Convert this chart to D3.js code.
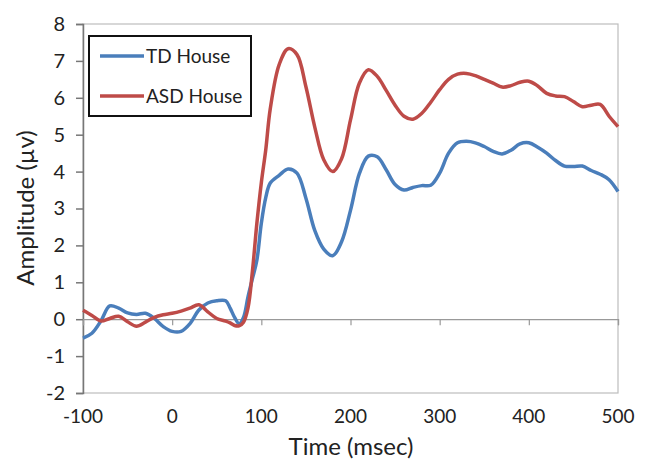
<!DOCTYPE html>
<html><head><meta charset="utf-8">
<script src="https://cdn.jsdelivr.net/npm/d3@7/dist/d3.min.js"></script>
<style>body{margin:0;background:#fff;} text{font-family:Lato,"Open Sans",sans-serif;fill:#222;}</style>
</head><body><svg id="c" width="648" height="461"></svg>
<script>
const times = [-100,-90,-80,-70,-60,-50,-40,-30,-20,-10,0,10,20,30,40,50,60,65,70,75,80,85,90,95,100,105,110,120,130,140,150,160,170,180,190,200,210,220,230,240,250,260,270,280,290,300,310,320,330,340,350,360,370,380,390,400,410,420,430,440,450,460,470,480,490,500];
const tdHouse = [-0.51,-0.38,-0.05,0.36,0.3,0.17,0.13,0.16,0.02,-0.2,-0.33,-0.33,-0.12,0.25,0.44,0.5,0.5,0.3,0.05,-0.12,0.05,0.6,1.1,1.6,2.6,3.3,3.69,3.9,4.07,3.96,3.28,2.4,1.9,1.72,2.1,2.95,3.95,4.42,4.4,4.05,3.65,3.5,3.57,3.62,3.63,3.96,4.5,4.78,4.82,4.78,4.68,4.55,4.48,4.58,4.75,4.78,4.66,4.5,4.3,4.15,4.14,4.15,4.03,3.93,3.78,3.46];
const asdHouse = [0.24,0.1,-0.05,0.02,0.08,-0.07,-0.19,-0.08,0.05,0.12,0.16,0.22,0.3,0.39,0.2,0.02,-0.05,-0.1,-0.17,-0.18,-0.08,0.3,1.3,2.6,3.7,4.6,5.7,6.9,7.33,7.17,6.3,5.2,4.32,4.0,4.35,5.4,6.4,6.76,6.58,6.2,5.8,5.5,5.42,5.58,5.88,6.22,6.5,6.64,6.66,6.6,6.5,6.4,6.29,6.33,6.42,6.45,6.32,6.12,6.05,6.03,5.9,5.76,5.8,5.82,5.5,5.22];
const seriesNames = ["TD House","ASD House"];
const seriesColors = ["#4a7ebb","#be4b48"];
const xTicks = [-100,0,100,200,300,400,500];
const yTicks = [-2,-1,0,1,2,3,4,5,6,7,8];

const svg = d3.select("#c");
const L=83,R=618,T=24,B=393;
const x = d3.scaleLinear().domain([-100,500]).range([L,R]);
const y = d3.scaleLinear().domain([-2,8]).range([B,T]);
const fmt = d => String(d); // plain hyphen minus

// plot border
svg.append("rect").attr("x",L).attr("y",T).attr("width",R-L).attr("height",B-T)
  .attr("fill","none").attr("stroke","#bdbdbd").attr("stroke-width",1.2);

// y axis
const ya = svg.append("g").attr("transform",`translate(${L},0)`)
  .call(d3.axisLeft(y).tickValues(yTicks).tickSize(7).tickPadding(11).tickFormat(fmt));
ya.select(".domain").attr("stroke","#777").attr("stroke-width",1.5);
ya.selectAll(".tick line").attr("stroke","#777").attr("stroke-width",1.5);
ya.selectAll("text").style("font-size","20px").style("font-family","Lato,sans-serif").attr("fill","#222");

// x axis at zero
const xa = svg.append("g").attr("transform",`translate(0,${y(0)})`)
  .call(d3.axisBottom(x).tickValues(xTicks).tickSize(6).tickFormat(""));
xa.select(".domain").attr("stroke","#999").attr("stroke-width",1.2);
xa.selectAll(".tick line").attr("stroke","#999").attr("stroke-width",1.2);

// x tick labels at bottom
svg.append("g").selectAll("text").data(xTicks).join("text")
  .attr("x",d=>x(d)).attr("y",423).attr("text-anchor","middle")
  .style("font-size","19px").text(fmt);

// titles
svg.append("text").attr("x",351).attr("y",455).attr("text-anchor","middle")
  .style("font-size","24px").text("Time (msec)");
svg.append("text").attr("transform",`translate(34,208) rotate(-90)`).attr("text-anchor","middle")
  .style("font-size","24px").text("Amplitude (µv)");

// lines
const data = [tdHouse, asdHouse];
const line = d3.line().x((d,i)=>x(times[i])).y(d=>y(d)).curve(d3.curveCatmullRom.alpha(0.5));
data.forEach((vals,k)=>{
  svg.append("path").attr("d",line(vals)).attr("fill","none")
    .attr("stroke",seriesColors[k]).attr("stroke-width",3.5).attr("stroke-linejoin","round");
});

// legend
const lg = svg.append("g");
lg.append("rect").attr("x",89).attr("y",36).attr("width",162).attr("height",80)
  .attr("fill","#fff").attr("stroke","#111").attr("stroke-width",2);
seriesNames.forEach((n,k)=>{
  const yy = 56 + k*40;
  lg.append("line").attr("x1",100).attr("x2",144).attr("y1",yy).attr("y2",yy)
    .attr("stroke",seriesColors[k]).attr("stroke-width",3.5);
  lg.append("text").attr("x",146).attr("y",yy+7).style("font-size","19px").text(n);
});
</script></body></html>
